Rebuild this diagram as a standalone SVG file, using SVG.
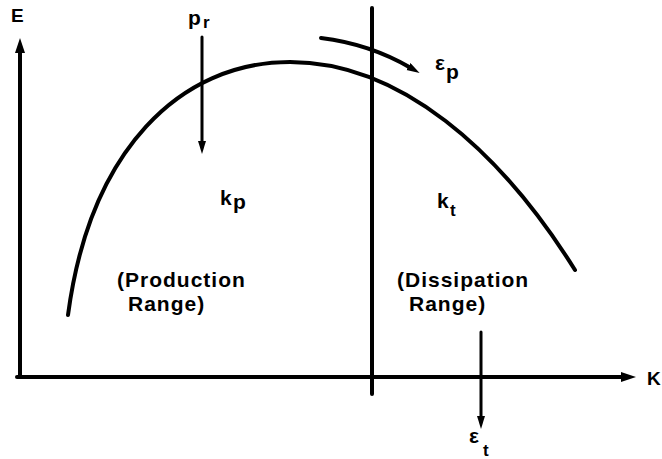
<svg xmlns="http://www.w3.org/2000/svg" width="662" height="459" viewBox="0 0 662 459">
<defs>
<marker id="ah" markerUnits="userSpaceOnUse" markerWidth="16" markerHeight="12" refX="3" refY="5" orient="auto">
<path d="M0,0 L15,5 L0,10 z" fill="#000"/>
</marker>
<marker id="ahs" markerUnits="userSpaceOnUse" markerWidth="14" markerHeight="10" refX="3" refY="4" orient="auto">
<path d="M0,0 L13,4 L0,8 z" fill="#000"/>
</marker>
</defs>
<style>
.ax{stroke:#000;stroke-width:4;fill:none;stroke-linecap:round}
.ar{stroke:#000;stroke-width:3;fill:none;stroke-linecap:round}
.t{font-family:"Liberation Sans",Arial,sans-serif;font-weight:bold;fill:#000}
.lbl{font-size:21px;letter-spacing:1px}
.sym{font-size:21px}
.sub{font-size:17px}
</style>
<rect width="662" height="459" fill="#fff"/>
<g id="connectors">
<path class="ax" d="M20,377 L20,50" marker-end="url(#ah)"/>
<path class="ax" d="M17,377 L624,377" marker-end="url(#ah)"/>
<path class="ax" d="M372,8 L372,394"/>
<path class="ar" d="M202,37 L202,144" marker-end="url(#ahs)"/>
<path class="ar" d="M481,332 L481,419" marker-end="url(#ahs)"/>
<path class="ax" d="M68,315 C90,150 180,62 290,62 C400,62 500,150 575,270"/>
<path class="ar" style="stroke-width:4" d="M321,38 Q370,44 411,68" marker-end="url(#ahs)"/>
</g>
<g id="axis-labels">
<text class="t" x="11" y="22" font-size="19">E</text>
<text class="t" x="647" y="385" font-size="19">K</text>
</g>
<g id="p-r">
<text class="t sym" x="188" y="25">p</text>
<text class="t sub" x="203" y="28">r</text>
</g>
<g id="eps-p">
<text class="t sym" x="435" y="70">ε</text>
<text class="t sym" x="446" y="79">p</text>
</g>
<g id="k-p">
<text class="t sym" x="220" y="205">k</text>
<text class="t sym" x="233" y="209">p</text>
</g>
<g id="k-t">
<text class="t sym" x="437" y="208">k</text>
<text class="t sub" x="450" y="216">t</text>
</g>
<g id="eps-t">
<text class="t sym" x="469" y="443">ε</text>
<text class="t sub" x="483" y="456">t</text>
</g>
<g id="production">
<text class="t lbl" x="117" y="287">(Production</text>
<text class="t lbl" x="128" y="311">Range)</text>
</g>
<g id="dissipation">
<text class="t lbl" x="397" y="287">(Dissipation</text>
<text class="t lbl" x="409" y="311">Range)</text>
</g>
</svg>
